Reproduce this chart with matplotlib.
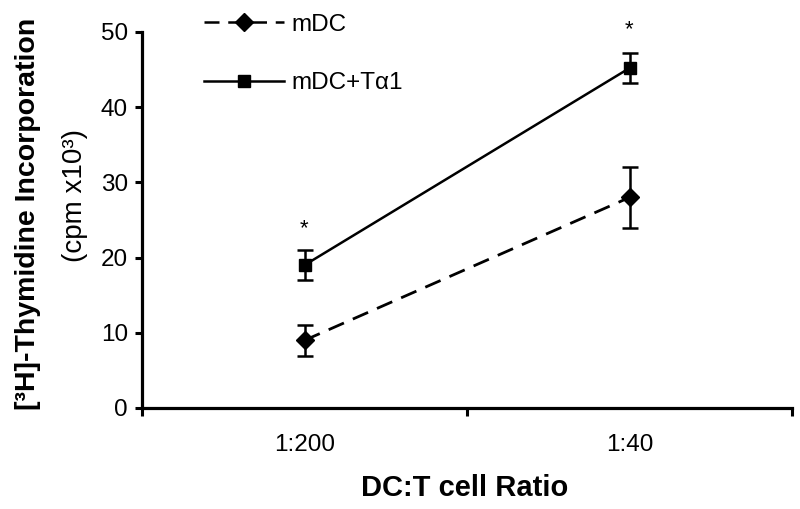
import matplotlib
matplotlib.use("Agg")
import matplotlib.pyplot as plt
from matplotlib.lines import Line2D

plt.rcParams['font.family'] = ['Liberation Sans', 'DejaVu Sans']

categories = ["1:200", "1:40"]
mdc = [9.0, 28.0]
mdc_err = [2.1, 4.0]
mdc_ta1 = [19.0, 45.2]
mdc_ta1_err = [2.0, 2.0]
star_y = [23.8, 50.3]

fig = plt.figure(figsize=(8, 5.09), dpi=100)
ax = fig.add_axes([142/800, 1-408/509, (792-142)/800, (408-32)/509])

x = [0.5, 1.5]
dash = (0, (6, 3.5))
ax.errorbar(x, mdc, yerr=mdc_err, color='black', linestyle=dash, lw=2.0,
            marker='D', ms=9.5, capsize=5.5, capthick=1.8, elinewidth=1.8)
ax.errorbar(x, mdc_ta1, yerr=mdc_ta1_err, color='black', linestyle='-', lw=1.8,
            marker='s', ms=9, capsize=5.5, capthick=1.8, elinewidth=1.8)
for xi, yi in zip(x, star_y):
    ax.text(xi, yi, "*", ha='center', va='center', fontsize=16)

ax.set_xlim(0, 2)
ax.set_ylim(0, 50)
ax.set_xticks([0, 1, 2])
ax.set_xticklabels([])
ax.set_xticks(x, minor=True)
ax.set_xticklabels(categories, minor=True, fontsize=17.5)
ax.tick_params(axis='x', which='minor', length=0, pad=19)
ax.tick_params(axis='x', which='major', length=6, width=2.2, direction='out')
ax.set_yticks([0, 10, 20, 30, 40, 50])
ax.tick_params(axis='y', length=5, width=2.2, labelsize=17.5, pad=5)
for s in ['top', 'right']:
    ax.spines[s].set_visible(False)
for s in ['left', 'bottom']:
    ax.spines[s].set_linewidth(2.3)

fig.text(465/800, 1-488/509, "DC:T cell Ratio", ha='center', va='center',
         fontsize=21, fontweight='bold')
fig.text(28/800, 1-214/509, "[\u00b3H]-Thymidine Incorporation", rotation=90,
         ha='center', va='center', fontsize=20.5, fontweight='bold')
fig.text(75/800, 1-196/509, "(cpm x10\u00b3)", rotation=90,
         ha='center', va='center', fontsize=20)

h1 = Line2D([], [], color='black', linestyle=dash, lw=1.8, marker='D', ms=9.5)
h2 = Line2D([], [], color='black', linestyle='-', lw=1.8, marker='s', ms=9)
leg = fig.legend([h1, h2], ["mDC", "mDC+T\u03b11"], loc='upper left',
                 bbox_to_anchor=(182/800, 1+8/509), frameon=False, fontsize=17.5,
                 handlelength=3.3, labelspacing=1.5, handletextpad=0.3)

fig.savefig("out.png", dpi=100)
